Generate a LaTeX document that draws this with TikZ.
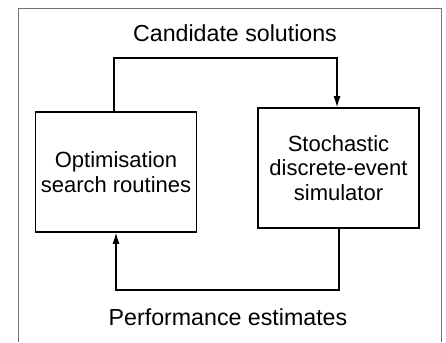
\documentclass[tikz,border=0pt]{standalone}
\usepackage{fontspec}
\setmainfont{Liberation Sans}
\usetikzlibrary{arrows.meta}
\begin{document}
\begin{tikzpicture}[x=1pt,y=-1pt,
  blk/.style={draw=black,line width=1.6pt,minimum width=161pt,minimum height=120pt,align=center,inner sep=0pt,font=\fontsize{22}{24.5}\selectfont},
  lbl/.style={font=\fontsize{23.2}{25}\selectfont,inner sep=0pt,anchor=base},
  conn/.style={line width=1.2pt,-{Latex[length=11pt,width=7pt]}},
  frame/.style={draw=gray!90!black,line width=0.9pt}]
\useasboundingbox (0,0) rectangle (446,342);
\draw[frame] (18,342) -- (18,8) -- (441,8) -- (441,342);
\node[blk] (L) at (116,172) {Optimisation\\search routines};
\node[blk] (R) at (338.5,168) {Stochastic\\discrete-event\\simulator};
\node[lbl] (top) at (235,42) {Candidate solutions};
\node[lbl] (bot) at (228,325) {Performance estimates};
\coordinate (t1) at (114,58);
\coordinate (t2) at (337,58);
\coordinate (b1) at (339,290);
\coordinate (b2) at (116,290);
\draw[conn] (L.north -| t1) -- (t1) -- (t2) -- (R.north -| t2);
\draw[conn] (R.south -| b1) -- (b1) -- (b2) -- (L.south -| b2);
\end{tikzpicture}
\end{document}
